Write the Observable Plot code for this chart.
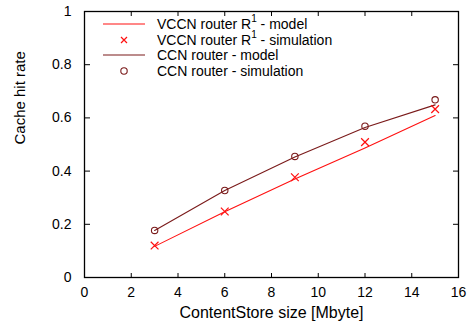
<!DOCTYPE html>
<html><head><meta charset="utf-8">
<script src="https://cdn.jsdelivr.net/npm/d3@7"></script>
<script src="https://cdn.jsdelivr.net/npm/@observablehq/plot@0.6"></script>
<style>
body{margin:0;background:#fff;font-family:"Liberation Sans",Arial,sans-serif}
#wrap{position:relative;width:470px;height:333px}
#legend{position:absolute;left:0;top:0;width:470px;height:100px;pointer-events:none}
.row{position:absolute;left:100px;height:16px;display:flex;align-items:center;font-size:14px;color:#000;white-space:nowrap}
.row svg{width:48px;height:16px;margin-right:9px}
sup{font-size:10px;vertical-align:7px;line-height:0}
</style></head><body><div id="wrap"><div id="legend"></div></div>
<script>
const sizes = [3, 6, 9, 12, 15];
const vccnModel = [0.117, 0.247, 0.370, 0.487, 0.609];
const vccnSim   = [0.120, 0.248, 0.377, 0.509, 0.633];
const ccnModel  = [0.177, 0.327, 0.453, 0.564, 0.649];
const ccnSim    = [0.177, 0.327, 0.455, 0.569, 0.668];
const xTicks = [0, 2, 4, 6, 8, 10, 12, 14, 16];
const yTicks = [0, 0.2, 0.4, 0.6, 0.8, 1];
const legendLabels = [
  "VCCN router R<sup>1</sup> - model",
  "VCCN router R<sup>1</sup> - simulation",
  "CCN router - model",
  "CCN router - simulation"
];
const xLabel = "ContentStore size [Mbyte]";
const yLabel = "Cache hit rate";

const RED = "#ff1010", DARK = "#7a1a1a";
const font = "Liberation Sans, Arial, sans-serif";

const rows = (vals) => sizes.map((s, i) => ({x: s, y: vals[i]}));

const chart = Plot.plot({
  width: 470, height: 333,
  marginLeft: 84, marginRight: 12, marginTop: 11, marginBottom: 56,
  style: {fontFamily: font, background: "#fff", color: "#000"},
  x: {domain: [0, 16]},
  y: {domain: [0, 1]},
  marks: [
    // inward tick marks on all four sides
    Plot.axisX(xTicks, {anchor: "top", frameAnchor: "bottom", tickSize: 5, tickFormat: () => "", label: null}),
    Plot.axisX(xTicks, {anchor: "bottom", frameAnchor: "top", tickSize: 5, tickFormat: () => "", label: null}),
    Plot.axisY(yTicks, {anchor: "right", frameAnchor: "left", tickSize: 5, tickFormat: () => "", label: null}),
    Plot.axisY(yTicks, {anchor: "left", frameAnchor: "right", tickSize: 5, tickFormat: () => "", label: null}),
    // tick labels
    Plot.axisX(xTicks, {anchor: "bottom", tickSize: 0, tickPadding: 10, fontSize: 14, label: null, tickFormat: d => String(d)}),
    Plot.axisY(yTicks, {anchor: "left", tickSize: 0, tickPadding: 13, fontSize: 14, label: null, tickFormat: d => String(d)}),
    Plot.text([xLabel], {frameAnchor: "bottom", dy: 40, fontSize: 16, text: d => d}),
    Plot.text([yLabel], {frameAnchor: "left", dx: -64, rotate: -90, fontSize: 15, text: d => d}),
    Plot.frame({stroke: "#000", strokeWidth: 1.3}),
    Plot.line(rows(vccnModel), {x: "x", y: "y", stroke: RED, strokeWidth: 1.1}),
    Plot.line(rows(ccnModel), {x: "x", y: "y", stroke: DARK, strokeWidth: 1.1}),
    Plot.dot(rows(vccnSim), {x: "x", y: "y", symbol: "times", r: 3.6, stroke: RED, strokeWidth: 1.2}),
    Plot.dot(rows(ccnSim), {x: "x", y: "y", symbol: "circle", r: 3.2, stroke: DARK, strokeWidth: 1.1, fill: "none"})
  ]
});
document.getElementById("wrap").prepend(chart);

// legend (inside the plot frame, top-left)
const legendSamples = [
  `<line x1="3" x2="45" y1="8" y2="8" stroke="${RED}" stroke-width="1.1"/>`,
  `<path d="M24,8m-3,-3l6,6m0,-6l-6,6" stroke="${RED}" stroke-width="1.2" fill="none"/>`,
  `<line x1="3" x2="45" y1="8" y2="8" stroke="${DARK}" stroke-width="1.1"/>`,
  `<circle cx="24" cy="8" r="3.2" stroke="${DARK}" stroke-width="1.1" fill="none"/>`
];
const legendTops = [15.5, 32, 47, 62.8];
const leg = document.getElementById("legend");
legendLabels.forEach((lab, i) => {
  const r = document.createElement("div");
  r.className = "row";
  r.style.top = legendTops[i] + "px";
  r.innerHTML = `<svg viewBox="0 0 48 16">${legendSamples[i]}</svg><span>${lab}</span>`;
  leg.appendChild(r);
});
</script>
</body></html>
